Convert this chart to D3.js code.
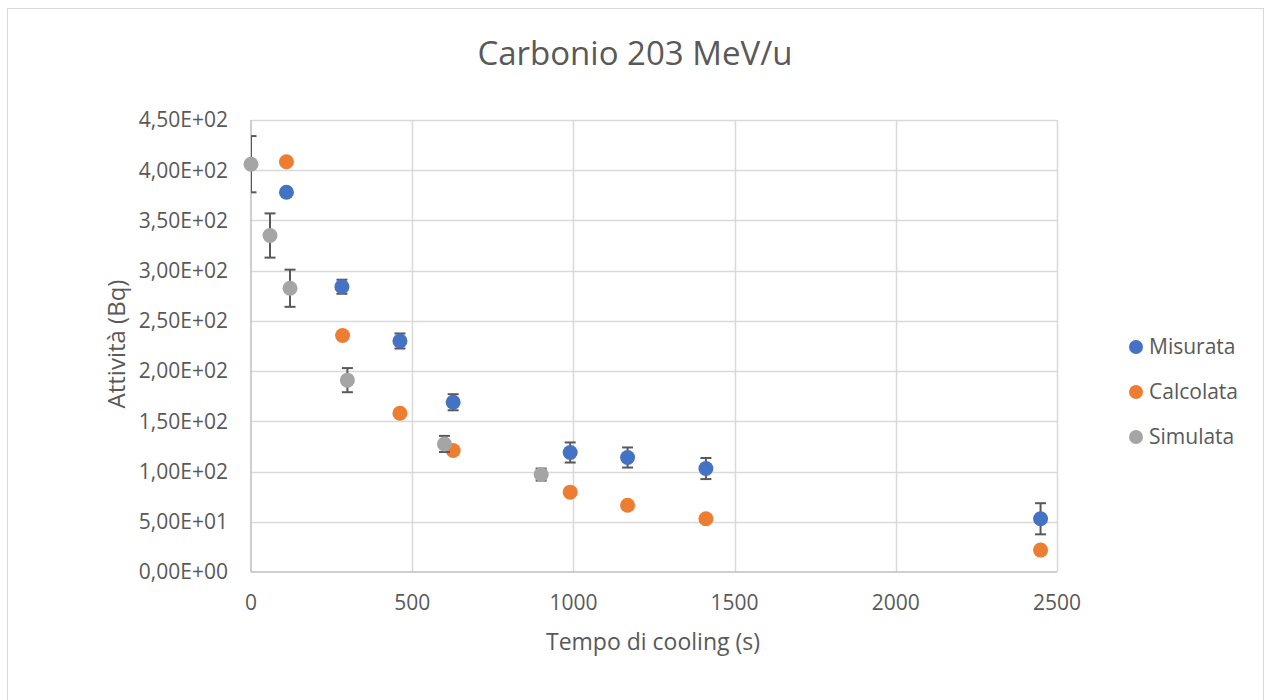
<!DOCTYPE html>
<html><head><meta charset="utf-8">
<script src="https://cdn.jsdelivr.net/npm/d3@7"></script>
<style>body{margin:0;background:#fff;} text{font-family:"Open Sans",sans-serif;fill:#595959;}</style>
</head><body><svg id="c" width="1266" height="700"></svg>
<script>
const seriesNames = ["Misurata","Calcolata","Simulata"];
const colors = ["#4472c4","#ed7d31","#a5a5a5"];
const misX = [110, 282, 462, 627, 990, 1168, 1411, 2449];
const misY = [378, 284, 230, 169, 119, 114, 103, 53];
const misErr = [4, 7, 7.5, 8, 10, 10, 10.5, 15.5];
const calX = [110, 284, 462, 627, 990, 1168, 1411, 2449];
const calY = [408.5, 235.5, 158, 121, 79.5, 66.5, 53, 21.8];
const calErr = [0, 0, 0, 0, 0, 0, 0, 0];
const simX = [0, 59, 121, 299, 600, 900];
const simY = [406, 335, 282.5, 191, 127.5, 97];
const simErr = [28, 22, 18.5, 12, 8, 6];
const xTicks = [0, 500, 1000, 1500, 2000, 2500];
const yTicks = [0, 50, 100, 150, 200, 250, 300, 350, 400, 450];

const svg = d3.select("#c");
svg.append("rect").attr("x",7.5).attr("y",8.5).attr("width",1256).attr("height",700)
  .attr("fill","#fff").attr("stroke","#d9d9d9").attr("stroke-width",1);

const x = d3.scaleLinear().domain([0,2500]).range([251,1057]);
const y = d3.scaleLinear().domain([0,450]).range([572,120]);

// gridlines
svg.append("g").selectAll("line").data(yTicks.filter(d=>d>0)).join("line")
  .attr("x1",x(0)).attr("x2",x(2500)).attr("y1",d=>Math.round(y(d))+0.5).attr("y2",d=>Math.round(y(d))+0.5)
  .attr("stroke","#d9d9d9").attr("stroke-width",1.5);
svg.append("g").selectAll("line").data(xTicks.filter(d=>d>0)).join("line")
  .attr("y1",y(0)).attr("y2",y(450)).attr("x1",d=>Math.round(x(d))+0.5).attr("x2",d=>Math.round(x(d))+0.5)
  .attr("stroke","#d9d9d9").attr("stroke-width",1.5);
// axis lines
svg.append("line").attr("x1",x(0)).attr("x2",x(2500)).attr("y1",y(0)).attr("y2",y(0)).attr("stroke","#bfbfbf").attr("stroke-width",1.5);
svg.append("line").attr("x1",x(0)).attr("x2",x(0)).attr("y1",y(0)).attr("y2",y(450)).attr("stroke","#bfbfbf").attr("stroke-width",1.5);

// tick labels
const fmt = v => { if (v===0) return "0,00E+00"; const e=Math.floor(Math.log10(v)); const m=v/Math.pow(10,e); return m.toFixed(2).replace(".",",")+"E+"+String(e).padStart(2,"0"); };
svg.append("g").selectAll("text").data(yTicks).join("text")
  .attr("x",228).attr("y",d=>y(d)).attr("dy","0.35em").attr("text-anchor","end")
  .style("font-size","21px").text(fmt);
svg.append("g").selectAll("text").data(xTicks).join("text")
  .attr("x",d=>x(d)).attr("y",603).attr("dy","0.35em").attr("text-anchor","middle")
  .style("font-size","21px").text(d=>d);

// titles
svg.append("text").attr("x",635).attr("y",53).attr("dy","0.35em").attr("text-anchor","middle").style("font-size","33px").text("Carbonio 203 MeV/u");
svg.append("text").attr("x",653).attr("y",642).attr("dy","0.35em").attr("text-anchor","middle").style("font-size","23px").text("Tempo di cooling (s)");
svg.append("text").attr("transform","translate(117,344) rotate(-90)").attr("dy","0.35em").attr("text-anchor","middle").style("font-size","24px").text("Attività (Bq)");

// clip
svg.append("clipPath").attr("id","pc").append("rect").attr("x",x(0)).attr("y",y(450)-40).attr("width",x(2500)-x(0)+20).attr("height",y(0)-y(450)+40);

const series = [
  {xs:misX, ys:misY, es:misErr},
  {xs:calX, ys:calY, es:calErr},
  {xs:simX, ys:simY, es:simErr}
];
series.forEach((s,i)=>{
  const data = s.xs.map((xv,j)=>({x:xv,y:s.ys[j],e:s.es[j]}));
  const g = svg.append("g");
  const eb = g.append("g").attr("clip-path","url(#pc)").selectAll("g").data(data.filter(d=>d.e>0)).join("g");
  eb.append("line").attr("x1",d=>x(d.x)).attr("x2",d=>x(d.x)).attr("y1",d=>y(d.y-d.e)).attr("y2",d=>y(d.y+d.e)).attr("stroke","#595959").attr("stroke-width",2);
  eb.append("line").attr("x1",d=>x(d.x)-5.5).attr("x2",d=>x(d.x)+5.5).attr("y1",d=>y(d.y+d.e)).attr("y2",d=>y(d.y+d.e)).attr("stroke","#595959").attr("stroke-width",2);
  eb.append("line").attr("x1",d=>x(d.x)-5.5).attr("x2",d=>x(d.x)+5.5).attr("y1",d=>y(d.y-d.e)).attr("y2",d=>y(d.y-d.e)).attr("stroke","#595959").attr("stroke-width",2);
  g.append("g").selectAll("circle").data(data).join("circle")
    .attr("cx",d=>x(d.x)).attr("cy",d=>y(d.y)).attr("r",7.5).attr("fill",colors[i]);
});

// legend
const lg = svg.append("g").selectAll("g").data(seriesNames).join("g")
  .attr("transform",(d,i)=>`translate(1136,${347+i*45})`);
lg.append("circle").attr("r",7).attr("fill",(d,i)=>colors[i]);
lg.append("text").attr("x",13).attr("dy","0.35em").style("font-size","21px").text(d=>d);
</script></body></html>
